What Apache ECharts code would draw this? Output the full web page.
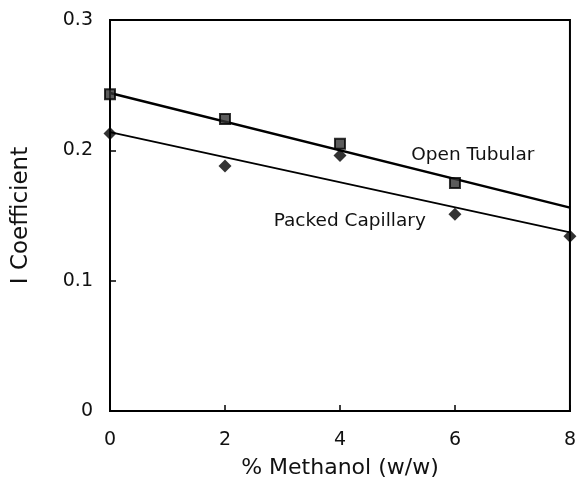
<!DOCTYPE html>
<html lang="en">
<head>
    <meta charset="UTF-8">
    <title>I Coefficient vs Methanol</title>
    <script type="text/javascript" src="https://cdn.jsdelivr.net/npm/echarts@6/dist/echarts.min.js"></script>
    <style>
        body { margin: 0; background: #fff; }
        #main { width: 579px; height: 487px; }
    </style>
</head>
<body>
<div id="main"></div>
<script>
    // measured points
    let methanol = [0, 2, 4, 6, 8];
    let openTubular = [0.243, 0.224, 0.205, 0.175, null];
    let packedCapillary = [0.213, 0.188, 0.196, 0.151, 0.134];
    // fitted lines (endpoints)
    let fitX = [0, 8];
    let openFit = [0.244, 0.156];
    let packedFit = [0.214, 0.137];

    function pairs(xs, ys) {
        let out = [];
        for (let i = 0; i < xs.length; i++) {
            if (ys[i] != null) out.push([xs[i], ys[i]]);
        }
        return out;
    }

    var myChart = echarts.init(document.getElementById('main'));
    var font = 'DejaVu Sans, Arial, sans-serif';
    var option = {
        animation: false,
        grid: {
            left: 110, top: 20, right: 7, bottom: 76,
            show: true, borderColor: '#000', borderWidth: 2
        },
        xAxis: {
            type: 'value', min: 0, max: 8, interval: 2,
            name: '% Methanol (w/w)', nameLocation: 'middle', nameGap: 46,
            nameTextStyle: { fontFamily: font, fontSize: 22, color: '#111' },
            axisLine: { lineStyle: { color: '#000', width: 2 } },
            axisTick: { inside: true, length: 6, lineStyle: { color: '#000', width: 1.5 } },
            axisLabel: { fontFamily: font, fontSize: 19, color: '#111', margin: 20 },
            splitLine: { show: false }
        },
        yAxis: {
            type: 'value', min: 0, max: 0.3, interval: 0.1,
            name: 'I Coefficient', nameLocation: 'middle', nameGap: 77,
            nameTextStyle: { fontFamily: font, fontSize: 23, color: '#111' },
            axisLine: { show: true, lineStyle: { color: '#000', width: 2 } },
            axisTick: { show: true, inside: true, length: 6, lineStyle: { color: '#000', width: 1.5 } },
            axisLabel: {
                fontFamily: font, fontSize: 19, color: '#111', margin: 17,
                formatter: function (v) { return v === 0 ? '0' : v.toFixed(1); }
            },
            splitLine: { show: false }
        },
        series: [
            {
                name: 'Open Tubular fit', type: 'line', data: pairs(fitX, openFit),
                symbol: 'none', lineStyle: { color: '#000', width: 2.4 }
            },
            {
                name: 'Packed Capillary fit', type: 'line', data: pairs(fitX, packedFit),
                symbol: 'none', lineStyle: { color: '#000', width: 1.7 }
            },
            {
                name: 'Open Tubular', type: 'scatter', data: pairs(methanol, openTubular),
                symbol: 'rect', symbolSize: 10,
                itemStyle: { color: '#333', borderColor: '#000', borderWidth: 2 },
                markPoint: {
                    symbolSize: 0,
                    data: [{ coord: [6.31, 0.1965], value: 'Open Tubular' }],
                    label: { show: true, formatter: 'Open Tubular', fontFamily: font, fontSize: 18.5, color: '#111' }
                },
                z: 5
            },
            {
                name: 'Packed Capillary', type: 'scatter', data: pairs(methanol, packedCapillary),
                symbol: 'diamond', symbolSize: 13,
                itemStyle: { color: '#000' },
                markPoint: {
                    symbolSize: 0,
                    data: [{ coord: [4.17, 0.146], value: 'Packed Capillary' }],
                    label: { show: true, formatter: 'Packed Capillary', fontFamily: font, fontSize: 18.5, color: '#111' }
                },
                z: 5
            }
        ]
    };
    myChart.setOption(option);
</script>
</body>
</html>
